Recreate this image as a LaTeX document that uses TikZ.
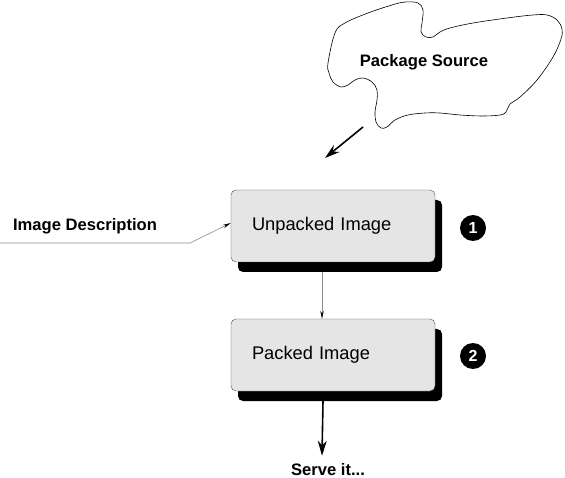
\documentclass[tikz,border=0pt]{standalone}
\usepackage{fontspec}
\setmainfont{Liberation Sans}
\usetikzlibrary{arrows.meta,shadows}

\begin{document}
\begin{tikzpicture}[x=1pt,y=-1pt]
\tikzstyle{stage} = [draw=black!70, thin, rounded corners=5pt, fill=black!10, minimum width=204pt, minimum height=72pt, text width=162pt, align=left, font=\fontsize{18.3}{22}\selectfont, drop shadow={shadow xshift=7pt, shadow yshift=-10pt, fill=black, opacity=1}]
\tikzstyle{label} = [font=\fontsize{16.6}{20}\selectfont\bfseries, inner sep=0]
\tikzstyle{num} = [circle, fill=black, text=white, inner sep=0, minimum size=26pt, font=\fontsize{16}{18}\selectfont\bfseries]
\tikzstyle{thin arrow} = [black!45, line width=0.6pt, -{Stealth[length=8pt, width=3.5pt, black]}]
\tikzstyle{thick arrow} = [line width=1.6pt, -{Stealth[length=15pt, width=9pt]}]

\useasboundingbox (0,0) rectangle (565,478);

% Nuvola del sorgente
\draw[line width=0.6pt] plot[smooth cycle, tension=0.6] coordinates {
  (328,63) (335,33) (345,23) (368,13) (392,5) (405,2) (418,3) (423,10)
  (422,23) (421,32) (426,37) (433,37) (440,32) (450,28) (473,23)
  (507,18) (533,15) (547,15) (557,20) (562,29) (561,39) (553,57)
  (537,80) (520,97) (510,104) (506,112) (500,115) (483,116) (460,115)
  (440,113) (425,113) (408,115) (395,120) (387,127) (381,128) (376,122)
  (375,112) (377,100) (377,90) (372,82) (363,78) (355,80) (348,85)
  (341,87) (333,82) (329,73)};
\node[label] (source) at (424,62) {Package Source};

% Box
\node[stage] (unpacked) at (333,226) {Unpacked Image};
\node[stage] (packed) at (333,355) {Packed Image};

% Numeri
\node[num] (n1) at (473,228) {1};
\node[num] (n2) at (473,356) {2};

% Testi
\node[label] (desc) at (85,226) {Image Description};
\node[label] (serve) at (328,470) {Serve it...};

% Frecce
\coordinate (src) at (363,127);
\coordinate (dst) at (325,158);
\draw[thick arrow] (src) -- (dst);

\coordinate (descstart) at (0,243);
\coordinate (descbend) at (190,243);
\draw[thin arrow] (descstart) -- (descbend) -- ([yshift=3pt]unpacked.west);

\draw[thin arrow] ([xshift=-11pt,yshift=-10pt]unpacked.south) -- ([xshift=-11pt]packed.north);
\draw[thick arrow] ([xshift=-10pt,yshift=-10pt]packed.south) -- ([xshift=-6pt,yshift=8pt]serve.north);

\end{tikzpicture}
\end{document}
